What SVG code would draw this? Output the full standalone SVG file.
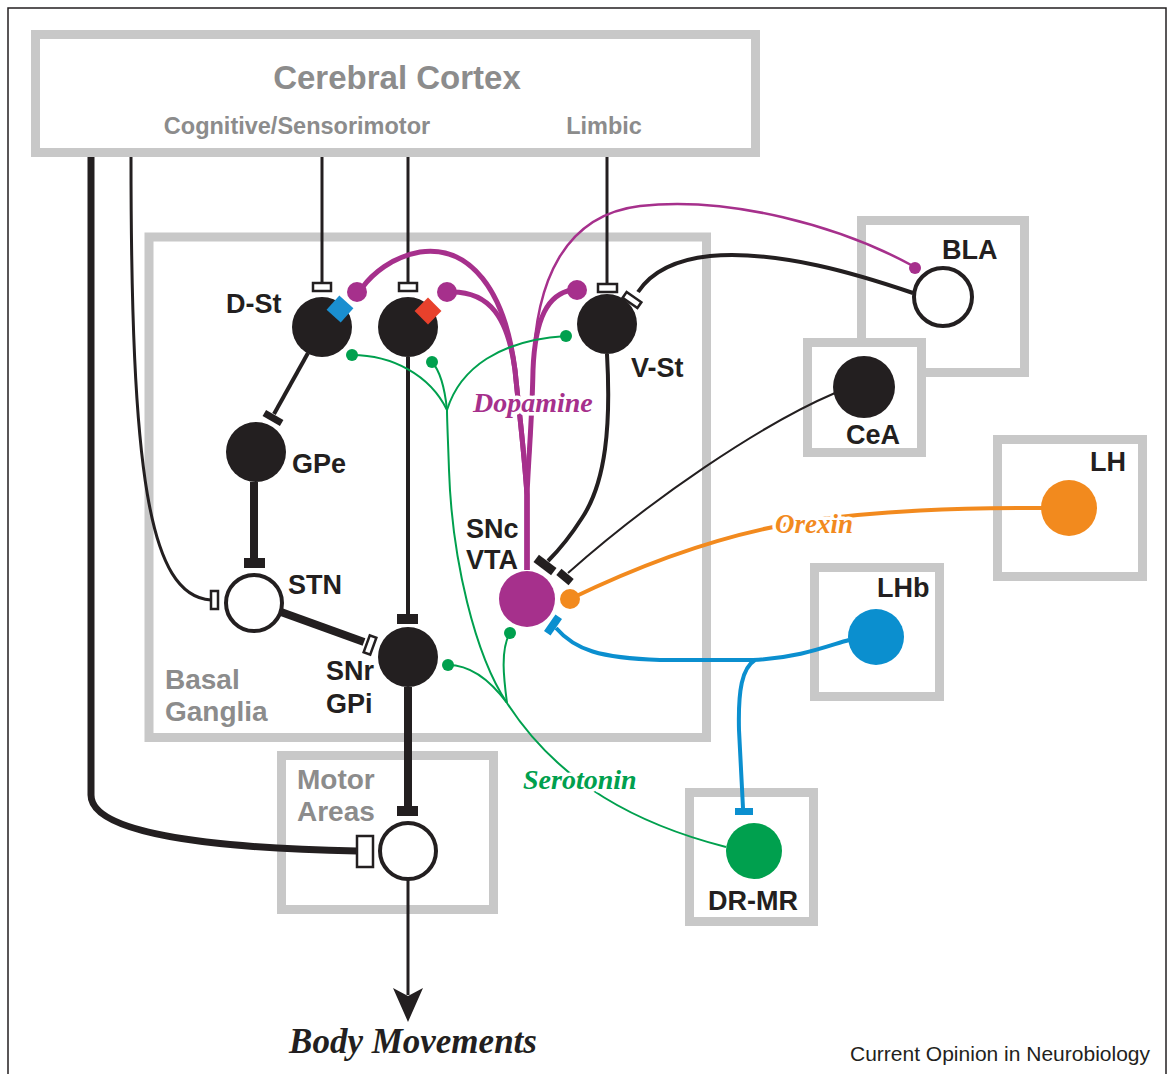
<svg xmlns="http://www.w3.org/2000/svg" width="1170" height="1074" viewBox="0 0 1170 1074">
<style>
.box{fill:#fff;stroke:#c8c8c8;stroke-width:9}
.boxn{fill:none;stroke:#c8c8c8;stroke-width:9}
.lbl{font-family:"Liberation Sans",Arial,sans-serif;font-weight:bold;font-size:27px;fill:#231f20}
.glbl{font-family:"Liberation Sans",Arial,sans-serif;font-weight:bold;fill:#8c8c8c}
.ital{font-family:"Liberation Serif","Times New Roman",serif;font-style:italic;font-weight:bold;paint-order:stroke;stroke:#fff;stroke-width:7px;stroke-linejoin:round}
.blk{fill:none;stroke:#231f20}
.mag{fill:none;stroke:#a6308c}
.grn{fill:none;stroke:#00a04e;stroke-width:2}
.blu{fill:none;stroke:#0b8fcf;stroke-width:4}
.org{fill:none;stroke:#f28a1e;stroke-width:4}
.term{fill:#fff;stroke:#231f20;stroke-width:2.5}
.bar{fill:#231f20}
.solid{fill:#231f20}
.open{fill:#fff;stroke:#231f20;stroke-width:4}
</style>
<rect x="8" y="8" width="1158" height="1070" fill="#fff" stroke="#231f20" stroke-width="1.5"/>

<!-- boxes -->
<g id="cerebral-cortex">
<rect class="box" x="35.5" y="34.5" width="720" height="118"/>
<text class="glbl" x="397" y="89" text-anchor="middle" font-size="33">Cerebral Cortex</text>
<text class="glbl" x="297" y="134" text-anchor="middle" font-size="23.5">Cognitive/Sensorimotor</text>
<text class="glbl" x="604" y="134" text-anchor="middle" font-size="23.5">Limbic</text>
</g>
<g id="basal-ganglia">
<rect class="boxn" x="149" y="237" width="557.5" height="500.5" stroke-width="8.5"/>
<text class="glbl" x="165" y="689" font-size="28">Basal</text>
<text class="glbl" x="165" y="721" font-size="28">Ganglia</text>
</g>
<g id="motor-areas-box">
<rect class="box" x="281.5" y="755.5" width="212" height="154"/>
<text class="glbl" x="297" y="789" font-size="28">Motor</text>
<text class="glbl" x="297" y="821" font-size="28">Areas</text>
</g>
<g id="bla-box"><rect class="box" x="861.5" y="220.5" width="163" height="152"/></g>
<g id="cea-box"><rect class="box" x="807.5" y="342.5" width="114" height="110"/></g>
<g id="lh-box"><rect class="box" x="997.5" y="439.5" width="145" height="137"/></g>
<g id="lhb-box"><rect class="box" x="814.5" y="567.5" width="125" height="129"/></g>
<g id="drmr-box"><rect class="box" x="689.5" y="792.5" width="124" height="129"/></g>

<!-- connectors -->
<g id="connectors">
<path class="blk" stroke-width="7" d="M91,157 L91,795 C91,832 200,848 357,851"/>
<path class="blk" stroke-width="3" d="M131,157 C131,470 148,596 211,600"/>
<path class="blk" stroke-width="3" d="M322,157 L322,283"/>
<path class="blk" stroke-width="3" d="M408,157 L408,283"/>
<path class="blk" stroke-width="3" d="M607,157 L607,284"/>
<path class="blk" stroke-width="4" d="M308,353 L274,414"/>
<path class="blk" stroke-width="8" d="M254,482 L254,558"/>
<path class="blk" stroke-width="8" d="M281,612 L364,642"/>
<path class="blk" stroke-width="4" d="M408,357 L408,614"/>
<path class="blk" stroke-width="8" d="M408,687 L408,806"/>
<path class="blk" stroke-width="3" d="M408,880 L408,995"/>
<polygon class="bar" points="393,988 408,996 423,988 408,1022"/>
<path class="blk" stroke-width="4" d="M607,354 C611,425 606,482 582,518 C568,540 556,553 548,561"/>
<path class="blk" stroke-width="2" d="M835,393 C760,425 650,500 568,573"/>
<path class="blk" stroke-width="4" d="M913,293 C860,275 780,250 710,256 C672,260 650,274 638,292"/>
<rect class="term" x="313" y="283" width="18" height="8"/>
<rect class="term" x="399" y="283" width="18" height="8"/>
<rect class="term" x="598" y="284" width="19" height="8"/>
<rect class="term" x="-9" y="-3.5" width="18" height="7" transform="translate(632,300) rotate(35)"/>
<rect class="term" x="211" y="591" width="7" height="18"/>
<rect class="term" x="-3.5" y="-9" width="7" height="18" transform="translate(370,645) rotate(20)"/>
<rect class="term" x="357" y="836" width="16" height="31" stroke-width="3"/>
<rect class="bar" x="-10" y="-3.5" width="20" height="7" transform="translate(273,418) rotate(30)"/>
<rect class="bar" x="244" y="558" width="21" height="10"/>
<rect class="bar" x="397" y="614" width="21" height="10"/>
<rect class="bar" x="397" y="806" width="21" height="10"/>
<rect class="bar" x="-11" y="-4.5" width="22" height="9" transform="translate(545,565) rotate(37)"/>
<rect class="bar" x="-8" y="-4" width="16" height="8" transform="translate(565,577) rotate(40)"/>
<path class="mag" stroke-width="5" d="M527,570 L527,495 C524,450 520,420 515,370 C505,290 470,245 420,252 C392,257 372,274 362,288"/>
<path class="mag" stroke-width="5" d="M527,570 L527,495 C524,450 520,420 515,370 C508,318 490,292 452,292"/>
<path class="mag" stroke-width="5" d="M527,570 L527,495 C529,450 532,420 533,370 C535,318 548,294 572,290"/>
<path class="mag" stroke-width="2.5" d="M527,495 C530,450 533,420 533,370 C535,280 565,215 640,206 C730,196 840,226 913,266"/>
<circle cx="357" cy="292" r="10" fill="#a6308c"/>
<circle cx="447" cy="292" r="10" fill="#a6308c"/>
<circle cx="577" cy="290" r="10" fill="#a6308c"/>
<circle cx="915" cy="268" r="6" fill="#a6308c"/>
<path class="grn" d="M726,847 C640,825 560,785 507,703"/>
<path class="grn" d="M507,703 C475,655 452,560 449,470 C448,440 447,420 447,410"/>
<path class="grn" d="M507,703 C504,680 500,650 510,633"/>
<path class="grn" d="M507,703 C490,680 470,665 448,665"/>
<path class="grn" d="M447,410 C430,375 392,355 352,355"/>
<path class="grn" d="M447,410 C445,390 441,372 432,362"/>
<path class="grn" d="M447,410 C460,368 500,340 566,336"/>
<g fill="#00a04e">
<circle cx="352" cy="355" r="6"/><circle cx="432" cy="362" r="6"/><circle cx="566" cy="336" r="6"/>
<circle cx="510" cy="633" r="6"/><circle cx="448" cy="665" r="6"/>
</g>
<path class="org" d="M570,599 C640,565 720,535 800,522 C880,510 960,508 1042,508"/>
<circle cx="570" cy="599" r="10" fill="#f28a1e"/>
<path class="blu" d="M556,628 C575,650 600,658 660,660 L753,660 C800,658 830,645 849,640"/>
<path class="blu" d="M755,660 C742,668 738,690 739,730 L743,808"/>
<rect x="-10" y="-4" width="20" height="8" fill="#0b8fcf" transform="translate(553,625) rotate(-55)"/>
<rect x="735" y="808" width="18" height="7" fill="#0b8fcf"/>
</g>

<!-- nodes -->
<g id="D-St-1"><circle class="solid" cx="322" cy="327" r="30"/>
<rect x="-9.5" y="-9.5" width="19" height="19" fill="#1a8fd0" transform="translate(340,309) rotate(42)"/>
<text class="lbl" x="226" y="313">D-St</text></g>
<g id="D-St-2"><circle class="solid" cx="408" cy="327" r="30"/>
<rect x="-9.5" y="-9.5" width="19" height="19" fill="#e8412c" transform="translate(428,311) rotate(45)"/></g>
<g id="V-St"><circle class="solid" cx="607" cy="324" r="30"/><text class="lbl" x="631" y="377">V-St</text></g>
<g id="GPe"><circle class="solid" cx="256" cy="452" r="30"/><text class="lbl" x="292" y="473">GPe</text></g>
<g id="STN"><circle class="open" cx="254" cy="603" r="28"/><text class="lbl" x="288" y="594">STN</text></g>
<g id="SNr-GPi"><circle class="solid" cx="408" cy="657" r="30"/><text class="lbl" x="326" y="680">SNr</text><text class="lbl" x="326" y="713">GPi</text></g>
<g id="SNc-VTA"><circle cx="527" cy="599" r="28" fill="#a6308c"/><text class="lbl" x="466" y="538">SNc</text><text class="lbl" x="466" y="569">VTA</text></g>
<g id="motor-neuron"><circle class="open" cx="408" cy="851" r="28"/></g>
<g id="BLA"><circle class="open" cx="943" cy="297" r="29"/><text class="lbl" x="942" y="259">BLA</text></g>
<g id="CeA"><circle class="solid" cx="864" cy="387" r="31"/><text class="lbl" x="846" y="444">CeA</text></g>
<g id="LH"><circle cx="1069" cy="508" r="28" fill="#f28a1e"/><text class="lbl" x="1090" y="471">LH</text></g>
<g id="LHb"><circle cx="876" cy="637" r="28" fill="#0b8fcf"/><text class="lbl" x="877" y="597">LHb</text></g>
<g id="DR-MR"><circle cx="754" cy="851" r="28" fill="#00a04e"/><text class="lbl" x="753" y="910" text-anchor="middle">DR-MR</text></g>

<!-- pathway labels -->
<text class="ital" x="473" y="412" fill="#a6308c" font-size="28">Dopamine</text>
<text class="ital" x="775" y="533" fill="#f28a1e" font-size="27">Orexin</text>
<text class="ital" x="523" y="789" fill="#00a04e" font-size="28">Serotonin</text>
<text x="413" y="1053" text-anchor="middle" font-family="'Liberation Serif','Times New Roman',serif" font-style="italic" font-weight="bold" font-size="35" fill="#231f20">Body Movements</text>
<text x="1150" y="1061" text-anchor="end" font-family="'Liberation Sans',Arial,sans-serif" font-size="21" fill="#231f20">Current Opinion in Neurobiology</text>
</svg>
